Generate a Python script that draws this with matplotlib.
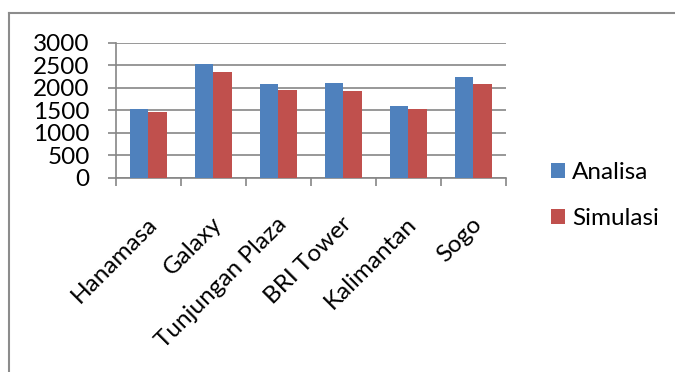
import matplotlib
matplotlib.use('Agg')
import numpy as np
import matplotlib.pyplot as plt
from matplotlib.lines import Line2D

# data
lokasi = ['Hanamasa', 'Galaxy', 'Tunjungan Plaza', 'BRI Tower', 'Kalimantan', 'Sogo']
analisa = [1530, 2520, 2080, 2110, 1590, 2230]
simulasi = [1470, 2340, 1950, 1920, 1520, 2090]
yticks = [0, 500, 1000, 1500, 2000, 2500, 3000]

biru = '#4F81BD'
merah = '#C0504D'
abu = '#868686'

plt.rcParams['font.family'] = ['Lato', 'DejaVu Sans']
fs = 17.5

fig = plt.figure(figsize=(6.75, 3.72), dpi=100)
ax = fig.add_axes([116 / 675, 1 - 178 / 372, 390 / 675, 135.3 / 372])

x = np.arange(len(lokasi))
w = 0.2857
ax.bar(x - w / 2, analisa, w, color=biru, label='Analisa', zorder=3)
ax.bar(x + w / 2, simulasi, w, color=merah, label='Simulasi', zorder=3)

ax.set_xlim(-0.5, len(lokasi) - 0.5)
ax.set_ylim(0, 3000)
ax.set_yticks(yticks)
ax.set_yticklabels([str(v) for v in yticks], fontsize=fs)
ax.yaxis.grid(True, color=abu, linewidth=1.2, zorder=0)
ax.tick_params(axis='y', length=6, width=1.2, color=abu, pad=13)

# category boundary ticks
ax.set_xticks(np.arange(len(lokasi) + 1) - 0.5)
ax.set_xticklabels([])
ax.tick_params(axis='x', length=6, width=1.2, color=abu)

for s in ['top', 'right']:
    ax.spines[s].set_visible(False)
for s in ['left', 'bottom']:
    ax.spines[s].set_color(abu)
    ax.spines[s].set_linewidth(1.2)

# rotated category labels
for i, nama in enumerate(lokasi):
    ax.text(i - 0.04, -0.26, nama, transform=ax.get_xaxis_transform(),
            rotation=45, rotation_mode='anchor', ha='right', va='top', fontsize=fs)

fig.legend(loc='upper left', bbox_to_anchor=(541 / 675, 1 - 152 / 372), frameon=False,
           fontsize=fs, handlelength=0.57, handleheight=0.57, handletextpad=0.3,
           labelspacing=1.05, borderaxespad=0)

# outer chart border (only top and left visible)
fig.add_artist(Line2D([8.5 / 675, 8.5 / 675], [0, 1 - 12.5 / 372], color='#8C8C8C', lw=1.5))
fig.add_artist(Line2D([8.5 / 675, 1], [1 - 12.5 / 372, 1 - 12.5 / 372], color='#8C8C8C', lw=1.5))

fig.savefig('out.png', dpi=100)
